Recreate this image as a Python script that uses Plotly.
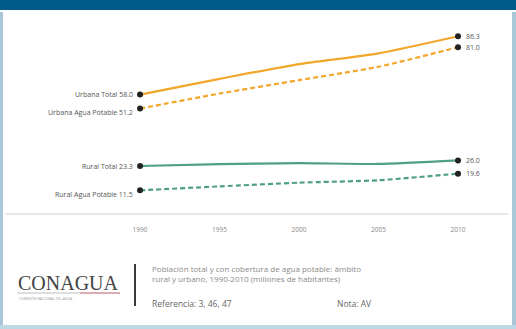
import plotly.graph_objects as go

years = [1990, 1995, 2000, 2005, 2010]
urbana_total = [58.0, 65.6, 72.8, 78.0, 86.3]
urbana_agua = [51.2, 58.5, 65.0, 71.5, 81.0]
rural_total = [23.3, 24.2, 24.7, 24.3, 26.0]
rural_agua = [11.5, 13.4, 15.2, 16.4, 19.6]
tick_labels = ["1990", "1995", "2000", "2005", "2010"]

series = [
    ("Urbana Total", urbana_total, "#f2a62a", "solid"),
    ("Urbana Agua Potable", urbana_agua, "#f2a62a", "5px,3px"),
    ("Rural Total", rural_total, "#4f9e86", "solid"),
    ("Rural Agua Potable", rural_agua, "#4f9e86", "5px,3px"),
]

fig = go.Figure()
for name, vals, col, dash in series:
    fig.add_trace(go.Scatter(
        x=years, y=vals, mode="lines", line=dict(color=col, width=2.2, dash=dash, shape="spline", smoothing=0.6),
        showlegend=False, hoverinfo="skip"))
    fig.add_trace(go.Scatter(
        x=[years[0], years[-1]], y=[vals[0], vals[-1]], mode="markers",
        marker=dict(color="#222222", size=6), showlegend=False, hoverinfo="skip"))
    fig.add_annotation(x=years[0], y=vals[0], text=f"{name} {vals[0]:.1f}", showarrow=False,
                       xanchor="right", xshift=-5, yshift=(0 if "Total" in name else -4),
                       font=dict(size=7, color="#555555", family="Open Sans"))
    fig.add_annotation(x=years[-1], y=vals[-1], text=f"{vals[-1]:.1f}", showarrow=False,
                       xanchor="left", xshift=6, font=dict(size=7, color="#555555", family="Open Sans"))

W, H = 516, 329
fig.update_layout(
    width=W, height=H,
    margin=dict(l=20, r=16, t=12, b=115),
    paper_bgcolor="#ffffff", plot_bgcolor="#ffffff",
    xaxis=dict(range=[1982.45, 2012.64], tickvals=years, ticktext=tick_labels,
               showgrid=False, zeroline=False, showline=False, ticklabelstandoff=10,
               tickfont=dict(size=6.5, color="#888888", family="Open Sans"), ticks=""),
    yaxis=dict(range=[0, 98.1], visible=False),
    shapes=[
        dict(type="rect", xref="paper", yref="paper", x0=-20/480, x1=1+16/480, y0=1+2/202, y1=1+12/202,
             fillcolor="#005a8a", line=dict(width=0), layer="above"),
        dict(type="rect", xref="paper", yref="paper", x0=-20/480, x1=-17/480, y0=-115/202, y1=1,
             fillcolor="#a9c7d6", line=dict(width=0)),
        dict(type="rect", xref="paper", yref="paper", x0=1+12/480, x1=1+16/480, y0=-115/202, y1=1,
             fillcolor="#a9c7d6", line=dict(width=0)),
        dict(type="rect", xref="paper", yref="paper", x0=-20/480, x1=1+16/480, y0=-115/202, y1=-111/202,
             fillcolor="#bcd8e4", line=dict(width=0)),
        dict(type="line", xref="paper", yref="paper", x0=-15/480, x1=1+8/480, y0=0, y1=0,
             line=dict(color="#cfcfcf", width=1)),
        dict(type="line", xref="paper", yref="paper", x0=115/480, x1=115/480, y0=-50/202, y1=-92/202,
             line=dict(color="#3a3a3a", width=2)),
        dict(type="line", xref="paper", yref="paper", x0=-3/480, x1=100/480, y0=-79/202, y1=-79/202,
             line=dict(color="#bbbbbb", width=1)),
        dict(type="line", xref="paper", yref="paper", x0=60/480, x1=100/480, y0=-79/202, y1=-79/202,
             line=dict(color="#e07a8a", width=1)),
    ],
)

fig.add_annotation(xref="paper", yref="paper", x=-4/480, y=-69/202, xanchor="left", yanchor="middle",
                   text="CONAGUA", showarrow=False,
                   font=dict(size=20, color="#444444", family="Liberation Serif"))
fig.add_annotation(xref="paper", yref="paper", x=-3/480, y=-84/202, xanchor="left", yanchor="middle",
                   text="COMISIÓN NACIONAL DEL AGUA", showarrow=False,
                   font=dict(size=3.5, color="#999999", family="Open Sans"))
fig.add_annotation(xref="paper", yref="paper", x=130/480, y=-59/202, xanchor="left", yanchor="middle",
                   text="Población total y con cobertura de agua potable: ámbito<br>rural y urbano, 1990-2010 (millones de habitantes)",
                   showarrow=False, align="left",
                   font=dict(size=8, color="#8a8a8a", family="Open Sans"))
fig.add_annotation(xref="paper", yref="paper", x=130/480, y=-89/202, xanchor="left", yanchor="middle",
                   text="Referencia: 3, 46, 47", showarrow=False,
                   font=dict(size=8.5, color="#666666", family="Open Sans"))
fig.add_annotation(xref="paper", yref="paper", x=315/480, y=-89/202, xanchor="left", yanchor="middle",
                   text="Nota: AV", showarrow=False,
                   font=dict(size=8.5, color="#666666", family="Open Sans"))

fig.write_html("out.html")
